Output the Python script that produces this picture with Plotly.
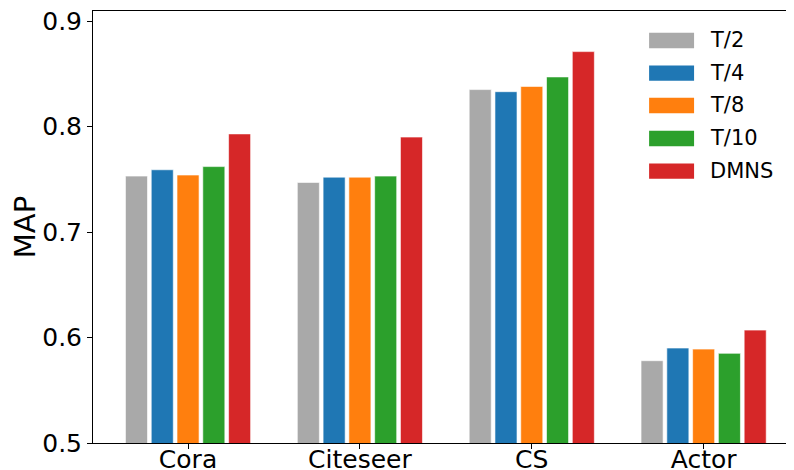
import plotly.graph_objects as go

categories = ["Cora", "Citeseer", "CS", "Actor"]
series_names = ["T/2", "T/4", "T/8", "T/10", "DMNS"]
t2 = [0.753, 0.747, 0.835, 0.578]
t4 = [0.759, 0.752, 0.833, 0.590]
t8 = [0.754, 0.752, 0.838, 0.589]
t10 = [0.762, 0.753, 0.847, 0.585]
dmns = [0.793, 0.790, 0.871, 0.607]
series_values = [t2, t4, t8, t10, dmns]
colors = ["#a9a9a9", "#1f77b4", "#ff7f0e", "#2ca02c", "#d62728"]
y_ticks = [0.5, 0.6, 0.7, 0.8, 0.9]

# page body has an 8px default margin; compensate
OFF = 8
W, H = 794 - OFF, 470 - OFF
ml, mr, mt, mb = 92.5 - OFF, 1, 10.5 - OFF, 27.3
pw, ph = W - ml - mr, H - mt - mb
bottom_abs = 442.7

fig = go.Figure()
for name, vals, col in zip(series_names, series_values, colors):
    fig.add_trace(go.Bar(
        x=list(range(len(categories))), y=vals, name=name,
        marker=dict(color=col, line=dict(color="white", width=0.6)),
        showlegend=False,
    ))

# custom legend (matplotlib-like wide swatches), positions in page pixels
row_y = [40, 72.7, 105, 138, 170.7]
for name, col, yc in zip(series_names, colors, row_y):
    fig.add_shape(type="rect", xref="paper", yref="paper",
                  x0=(649 - 92.5) / pw, x1=(694 - 92.5) / pw,
                  y0=(bottom_abs - (yc + 7.7)) / ph, y1=(bottom_abs - (yc - 7.7)) / ph,
                  fillcolor=col, line=dict(width=0))
    fig.add_annotation(xref="paper", yref="paper", x=(708 - 92.5) / pw,
                       y=(bottom_abs - yc) / ph, text=name, showarrow=False,
                       xanchor="left", yanchor="middle",
                       font=dict(size=21, color="black"))

font = "DejaVu Sans"
fig.update_layout(
    width=W, height=H,
    margin=dict(l=ml, r=mr, t=mt, b=mb, pad=0),
    paper_bgcolor="white", plot_bgcolor="white",
    barmode="group", bargap=0.25, bargroupgap=0.145,
    font=dict(family=font, color="black"),
    xaxis=dict(
        range=[-0.553, 3.52], tickmode="array", automargin=False,
        tickvals=list(range(len(categories))), ticktext=categories,
        ticks="outside", ticklen=5, tickcolor="black", tickwidth=1,
        tickfont=dict(size=25, family=font, color="black"),
        ticklabelstandoff=-11, ticklabeloverflow="allow",
        showline=True, linecolor="black", linewidth=1, mirror=True,
        showgrid=False, zeroline=False,
    ),
    yaxis=dict(
        range=[0.5, 0.9095], tickmode="array", tickvals=y_ticks, automargin=False,
        ticktext=[f"{v:.1f}" for v in y_ticks],
        ticks="outside", ticklen=5, tickcolor="black", tickwidth=1,
        tickfont=dict(size=25, family=font, color="black"),
        ticklabeloverflow="allow",
        title=dict(text="MAP", font=dict(size=29, family=font, color="black"), standoff=6),
        showline=True, linecolor="black", linewidth=1, mirror=True,
        showgrid=False, zeroline=False,
    ),
)

fig.write_html("out.html")
